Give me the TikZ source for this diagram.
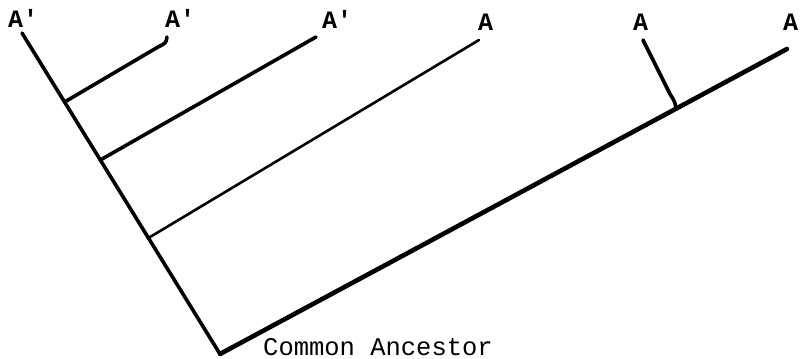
\documentclass[tikz,border=0pt]{standalone}
\usepackage{fontspec}
\setmonofont{Liberation Mono}
\usetikzlibrary{calc}
\begin{document}
\begin{tikzpicture}[x=1pt,y=-1pt,
  lab/.style={inner sep=0pt,anchor=base west,font=\ttfamily\bfseries\fontsize{25}{30}\selectfont},
  anc/.style={inner sep=0pt,anchor=base west,font=\ttfamily\fontsize{25.5}{30}\selectfont},
  br/.style={line cap=round,line join=round,line width=3.6pt},
  thin/.style={line cap=round,line width=2.6pt},
  thick/.style={line cap=round,line width=4.6pt}]
\useasboundingbox (0,0) rectangle (804,359);
% labels
\node[lab] (l1) at (8,27) {A'};
\node[lab] (l2) at (165,27) {A'};
\node[lab] (l3) at (322,28) {A'};
\node[lab] (l4) at (478,30) {A};
\node[lab] (l5) at (633,30) {A};
\node[lab] (l6) at (783,30) {A};
\node[anc] (ca) at (263,355) {Common Ancestor};
% end points and junctions
\coordinate (t1) at (22,33);
\coordinate (t2) at (167,37);
\coordinate (t3) at (316,37);
\coordinate (t4) at (479,40);
\coordinate (t5) at (643,40);
\coordinate (t6) at (787,49);
\coordinate (root) at (220,354);
\coordinate (j1) at ($(t1)!0.2150!(root)$);
\coordinate (j2) at ($(t1)!0.3956!(root)$);
\coordinate (j3) at ($(t1)!0.6386!(root)$);
\coordinate (j4) at ($(root)!0.8042!(t6)$);
% tree
\draw[br] (t1) -- (root);
\draw[thick] (root) -- (t6);
\draw[br] (j1) -- (158,47) .. controls (166,43) .. (t2);
\draw[br] (j2) -- (t3);
\draw[thin] (j3) -- (t4);
\draw[br] (t5) -- (670,94) .. controls (675,102) .. (j4);
\end{tikzpicture}
\end{document}
